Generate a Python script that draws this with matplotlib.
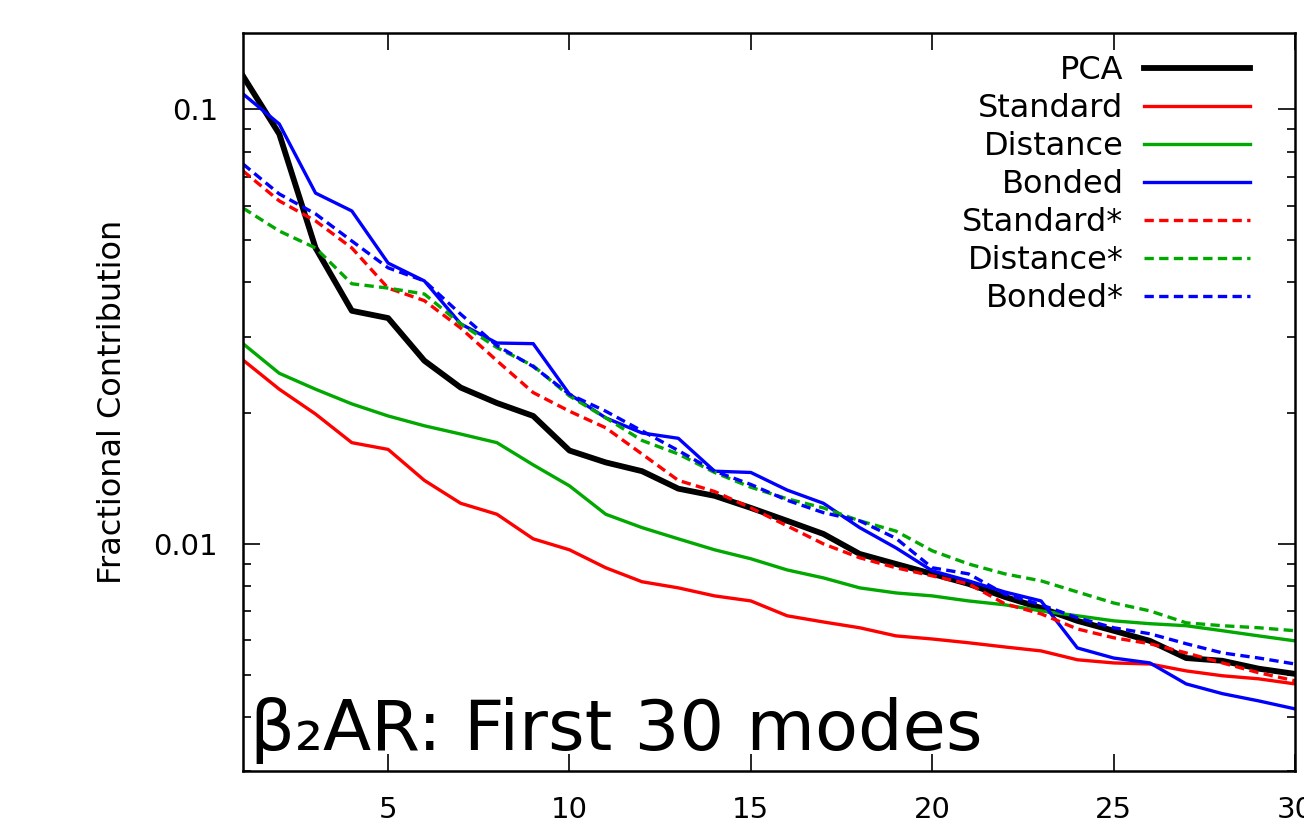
import numpy as np
import matplotlib.pyplot as plt
from matplotlib.ticker import LogLocator, NullFormatter

plt.rcParams['font.family'] = ['DejaVu Sans']

# mode index 1..30
modes = np.arange(1, 31)

# fractional contribution per mode
pca = [0.1194, 0.0878, 0.0480, 0.0344, 0.0331, 0.0264, 0.0229, 0.0211, 0.0197, 0.0164,
       0.0154, 0.0147, 0.0134, 0.0129, 0.0121, 0.0113, 0.01054, 0.00948, 0.00899, 0.00853,
       0.00809, 0.00755, 0.00712, 0.00665, 0.00631, 0.00598, 0.00546, 0.00538, 0.00516, 0.00502]
standard = [0.0265, 0.0227, 0.0199, 0.0171, 0.0165, 0.0140, 0.0124, 0.0117, 0.01027, 0.00969,
            0.00881, 0.00818, 0.00792, 0.00759, 0.00739, 0.00683, 0.00661, 0.00641, 0.00614, 0.00604,
            0.00592, 0.00579, 0.00567, 0.00541, 0.00532, 0.00529, 0.00510, 0.00497, 0.00489, 0.00476]
distance = [0.0289, 0.0247, 0.0227, 0.0210, 0.0197, 0.0187, 0.0179, 0.0171, 0.0152, 0.0136,
            0.0117, 0.0109, 0.01027, 0.00969, 0.00924, 0.00871, 0.00835, 0.00792, 0.00771, 0.00759,
            0.00739, 0.00724, 0.00701, 0.00683, 0.00665, 0.00655, 0.00648, 0.00631, 0.00614, 0.00598]
bonded = [0.1086, 0.0926, 0.0642, 0.0584, 0.0443, 0.0403, 0.0321, 0.0290, 0.0289, 0.0221,
          0.0195, 0.0180, 0.0175, 0.0147, 0.0146, 0.0133, 0.0124, 0.0109, 0.00979, 0.00867,
          0.00822, 0.00775, 0.00739, 0.00576, 0.00546, 0.00532, 0.00476, 0.00452, 0.00435, 0.00417]
standard_s = [0.0722, 0.0616, 0.0554, 0.0480, 0.0388, 0.0363, 0.0314, 0.0264, 0.0223, 0.0202,
              0.0185, 0.0161, 0.0140, 0.0132, 0.0121, 0.0110, 0.0100, 0.00929, 0.00881, 0.00844,
              0.00809, 0.00728, 0.00690, 0.00637, 0.00608, 0.00589, 0.00561, 0.00532, 0.00505, 0.00484]
distance_s = [0.0593, 0.0525, 0.0480, 0.0397, 0.0388, 0.0376, 0.0321, 0.0283, 0.0257, 0.0219,
              0.0195, 0.0173, 0.0161, 0.0146, 0.0135, 0.0127, 0.0121, 0.0113, 0.0107, 0.00964,
              0.00899, 0.00853, 0.00822, 0.00775, 0.00731, 0.00701, 0.00658, 0.00648, 0.00641, 0.00631]
bonded_s = [0.0749, 0.0639, 0.0575, 0.0498, 0.0432, 0.0403, 0.0338, 0.0286, 0.0256, 0.0221,
            0.0202, 0.0182, 0.0164, 0.0147, 0.0137, 0.0126, 0.0118, 0.0113, 0.0103, 0.00881,
            0.00853, 0.00767, 0.00724, 0.00676, 0.00641, 0.00621, 0.00589, 0.00561, 0.00546, 0.00529]

labels = ['PCA', 'Standard', 'Distance', 'Bonded', 'Standard*', 'Distance*', 'Bonded*']
series = [pca, standard, distance, bonded, standard_s, distance_s, bonded_s]
colors = ['black', '#ff0000', '#00a800', '#0000ff', '#ff0000', '#00a800', '#0000ff']
dashed = [False, False, False, False, True, True, True]

fig = plt.figure(figsize=(13.04, 8.3), dpi=100)
ax = fig.add_axes([243 / 1304, 1 - 771 / 830, 1052 / 1304, 738 / 830])

for lab, ys, c, d in zip(labels, series, colors, dashed):
    lw = 4.2 if lab == 'PCA' else 2.4
    ln, = ax.plot(modes, ys, color=c, lw=lw, label=lab)
    if d:
        ln.set_dashes((2.8, 1.6))

ax.set_yscale('log')
ax.set_xlim(1, 30)
ax.set_ylim(0.003, 0.15)

ax.set_xticks([5, 10, 15, 20, 25, 30])
ax.set_yticks([0.01, 0.1])
ax.set_yticklabels(['0.01', '0.1'])
ax.yaxis.set_minor_locator(LogLocator(base=10, subs=np.arange(2, 10)))
ax.yaxis.set_minor_formatter(NullFormatter())

ax.tick_params(axis='both', which='major', direction='in', length=12, width=1.2,
               top=True, right=True, labelsize=21, pad=18)
ax.tick_params(axis='y', which='minor', direction='in', length=6, width=1.2,
               left=True, right=True)
for s in ax.spines.values():
    s.set_linewidth(1.8)

ax.set_ylabel('Fractional Contribution', fontsize=23)
ax.yaxis.label.set_va('center')
ax.yaxis.set_label_coords(-0.1245, 0.5)

ax.text(0.007, 0.028, 'β₂AR: First 30 modes', transform=ax.transAxes,
        fontsize=50.7, ha='left', va='baseline')

ax.legend(loc='upper right', bbox_to_anchor=(0.957, 0.970), frameon=False,
          markerfirst=False, fontsize=23, handlelength=3.3, handletextpad=0.65,
          labelspacing=0.22, borderpad=0, borderaxespad=0)

fig.savefig('out.png', dpi=100)
